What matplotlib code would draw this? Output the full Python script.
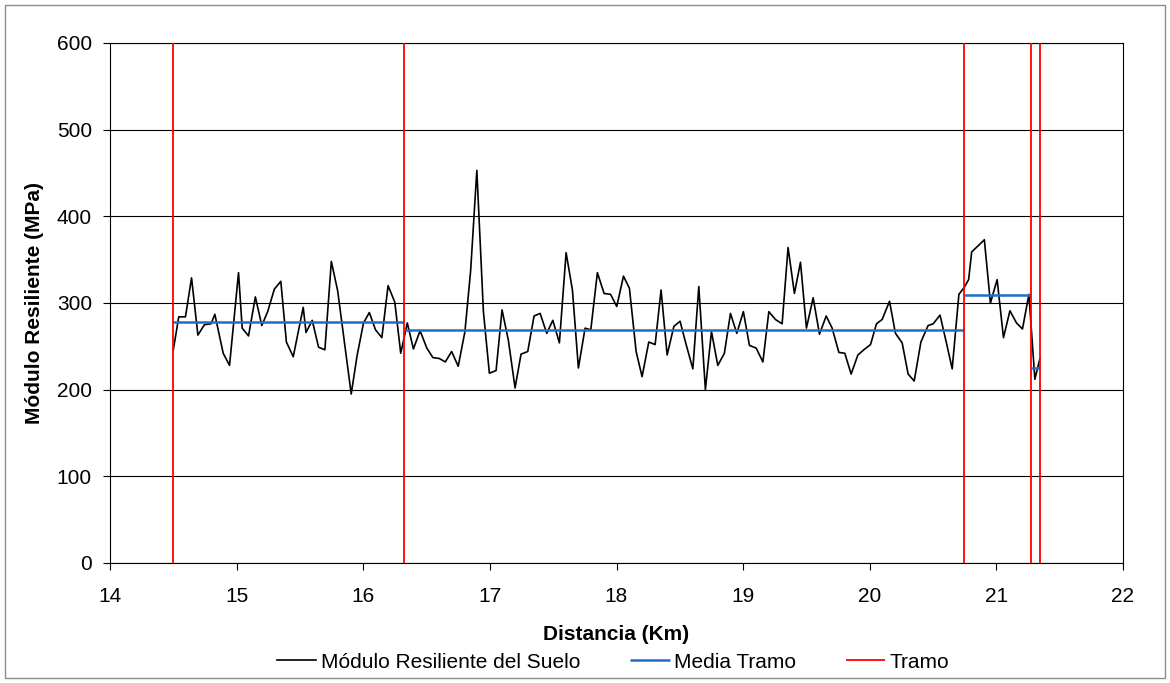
import matplotlib
matplotlib.use("Agg")
import matplotlib.pyplot as plt
from matplotlib.patches import Rectangle

plt.rcParams["font.family"] = ["Liberation Sans", "DejaVu Sans"]
plt.rcParams["font.size"] = 15

# distance along the road (km) and soil resilient modulus (MPa)
dist_km = [14.500, 14.543, 14.596, 14.644, 14.694, 14.746, 14.798, 14.828, 14.894, 14.944,
           15.015, 15.044, 15.094, 15.148, 15.199, 15.245, 15.298, 15.349, 15.393, 15.447,
           15.526, 15.548, 15.597, 15.647, 15.697, 15.748, 15.798, 15.848, 15.905, 15.951,
           16.002, 16.048, 16.097, 16.147, 16.196, 16.249, 16.296, 16.348, 16.396, 16.449,
           16.502, 16.550, 16.600, 16.648, 16.698, 16.750, 16.803, 16.848, 16.897, 16.949,
           16.996, 17.049, 17.096, 17.146, 17.199, 17.246, 17.299, 17.349, 17.397, 17.449,
           17.497, 17.549, 17.602, 17.652, 17.699, 17.752, 17.797, 17.849, 17.902, 17.953,
           18.002, 18.055, 18.102, 18.155, 18.202, 18.255, 18.305, 18.352, 18.400, 18.453,
           18.502, 18.550, 18.603, 18.650, 18.702, 18.750, 18.800, 18.852, 18.900, 18.950,
           19.002, 19.050, 19.103, 19.156, 19.203, 19.255, 19.308, 19.355, 19.405, 19.453,
           19.500, 19.553, 19.603, 19.656, 19.703, 19.756, 19.803, 19.853, 19.906, 19.953,
           20.006, 20.053, 20.098, 20.156, 20.203, 20.256, 20.303, 20.351, 20.404, 20.461,
           20.501, 20.555, 20.604, 20.651, 20.704, 20.746, 20.781, 20.805, 20.856, 20.905,
           20.953, 21.006, 21.056, 21.107, 21.159, 21.206, 21.257, 21.304, 21.344]
modulo = [246, 284, 284, 329, 263, 275, 276, 287, 242, 228,
          335, 271, 262, 307, 274, 290, 316, 325, 255, 238,
          295, 266, 280, 249, 246, 348, 314, 258, 195, 239,
          277, 289, 269, 260, 320, 301, 242, 277, 247, 268,
          248, 237, 236, 232, 244, 227, 267, 337, 453, 290,
          219, 222, 292, 257, 202, 241, 244, 285, 288, 265,
          280, 254, 358, 315, 225, 271, 269, 335, 311, 310,
          296, 331, 317, 244, 215, 255, 252, 315, 240, 273,
          279, 252, 224, 319, 200, 267, 228, 242, 288, 265,
          290, 251, 248, 232, 290, 281, 276, 364, 311, 347,
          271, 306, 264, 285, 271, 243, 242, 218, 240, 246,
          252, 276, 281, 302, 265, 254, 218, 210, 255, 274,
          276, 286, 255, 224, 310, 318, 327, 359, 366, 373,
          300, 327, 260, 291, 277, 270, 310, 212, 236]

# section boundaries and section means
tramo_ini = [14.500, 16.322, 20.742, 21.277]
tramo_fin = [16.322, 20.742, 21.277, 21.343]
media_tramo = [278, 269, 309, 225]
limites = [14.500, 16.322, 20.742, 21.277, 21.343]

fig = plt.figure(figsize=(11.70, 6.83), dpi=100)
ax = fig.add_axes([110 / 1170, 1 - 563 / 683, 1013 / 1170, 520 / 683])

ax.set_xlim(14, 22)
ax.set_ylim(0, 600)
ax.set_xticks(range(14, 23))
ax.set_yticks(range(0, 601, 100))
ax.grid(axis="y", color="black", lw=0.8, zorder=0)
ax.set_axisbelow(True)
for s in ax.spines.values():
    s.set_color("black"); s.set_linewidth(0.8)
ax.tick_params(direction="out", length=5, width=0.8, color="black")
ax.tick_params(axis="x", pad=12)
ax.tick_params(axis="y", pad=8)

ax.plot(dist_km, modulo, color="black", lw=1.2, zorder=3,
        label="Módulo Resiliente del Suelo")
ax.hlines(media_tramo, tramo_ini, tramo_fin, color="#1f6fc9", lw=1.8, zorder=4,
          label="Media Tramo")
ax.vlines(limites, 0, 600, color="#ff0000", lw=1.3, zorder=5, label="Tramo")

ax.set_xlabel("Distancia (Km)", fontweight="bold", va="center")
ax.xaxis.set_label_coords(0.5, (563 - 635) / 520)
ax.set_ylabel("Módulo Resiliente (MPa)", fontweight="bold", va="center")
ax.yaxis.set_label_coords((35 - 110) / 1013, 0.5)

fig.legend(loc="center", bbox_to_anchor=(613 / 1170, 1 - 662 / 683), ncol=3,
           frameon=False, handlelength=1.9, handletextpad=0.2,
           columnspacing=2.4, borderpad=0)

fig.patches.append(Rectangle((5 / 1170, 5 / 683), 1160 / 1170, 673 / 683,
                             transform=fig.transFigure, fill=False,
                             edgecolor="#8c8c8c", lw=1.0))

fig.savefig("out.png", dpi=100)
